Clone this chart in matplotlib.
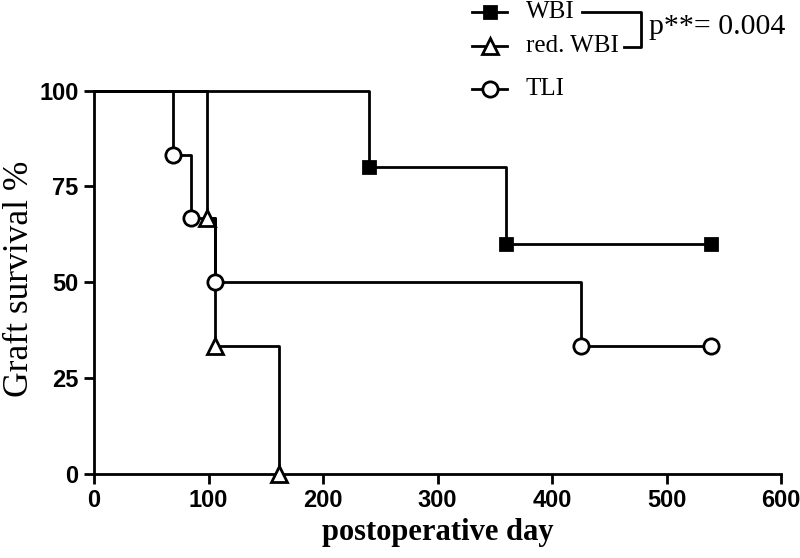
import matplotlib
matplotlib.use("Agg")
import matplotlib.pyplot as plt
from matplotlib.lines import Line2D

# Kaplan-Meier steps
wbi_days = [0, 240, 360, 539]
wbi_surv = [100, 80, 60, 60]
red_days = [0, 99, 106, 162]
red_surv = [100, 66.7, 33.3, 0]
tli_days = [0, 69, 85, 106, 425, 539]
tli_surv = [100, 83.3, 66.7, 50, 33.3, 33.3]

labels = ["WBI", "red. WBI", "TLI"]
x_ticks = [0, 100, 200, 300, 400, 500, 600]
y_ticks = [0, 25, 50, 75, 100]

W, H = 800, 558
fig = plt.figure(figsize=(W / 100, H / 100), dpi=100)
ax = fig.add_axes([94 / W, 1 - 473.7 / H, (781 - 94) / W, (473.7 - 90.7) / H])

tick_font = dict(family=["Liberation Sans Narrow", "Liberation Sans"], weight="bold", size=17)
serif = ["Liberation Serif", "DejaVu Serif"]

styles = [
    dict(marker="s", mfc="black", ms=9),
    dict(marker="^", mfc="white", ms=11),
    dict(marker="o", mfc="white", ms=11),
]
series = [(wbi_days, wbi_surv), (red_days, red_surv), (tli_days, tli_surv)]

for (d, s), st in zip(series, styles):
    ax.plot(d, s, drawstyle="steps-post", color="black", lw=2, clip_on=False, zorder=2)
    ax.plot(d[1:], s[1:], ls="none", color="black", mew=2, clip_on=False, zorder=3, **st)

ax.set_xlim(0, 600)
ax.set_ylim(0, 100)
ax.set_xticks(x_ticks)
ax.set_yticks(y_ticks)
ax.set_xticklabels([str(t) for t in x_ticks], fontdict=tick_font)
ax.set_yticklabels([str(t) for t in y_ticks], fontdict=tick_font)
ax.tick_params(direction="out", width=2, length=7, pad=4)
for sp in ["top", "right"]:
    ax.spines[sp].set_visible(False)
for sp in ["left", "bottom"]:
    ax.spines[sp].set_linewidth(2)

ax.set_xlabel("postoperative day", family=serif, weight="bold", size=22, labelpad=4)
ax.set_ylabel("Graft survival %", family=serif, size=25.5, va="center")
ax.yaxis.set_label_coords(-74 / 687, 0.51)

# legend drawn by hand in pixel positions
def fx(px):
    return px / W

def fy(py):
    return 1 - py / H

leg_y = [12, 46, 89]
for lab, st, py in zip(labels, styles, leg_y):
    fig.add_artist(Line2D([fx(472), fx(507)], [fy(py), fy(py)], color="black", lw=2))
    fig.add_artist(Line2D([fx(490)], [fy(py)], color="black", mew=2, ls="none", **st))
    fig.text(fx(526), fy(py), lab, family=serif, size=18, va="center", ha="left")

fig.add_artist(Line2D([fx(582), fx(641), fx(641), fx(624)],
                      [fy(12), fy(12), fy(47), fy(47)], color="black", lw=2))
fig.text(fx(649), fy(27), "p**= 0.004", family=serif, size=21.5, va="center", ha="left")

fig.savefig("out.png", dpi=100)
